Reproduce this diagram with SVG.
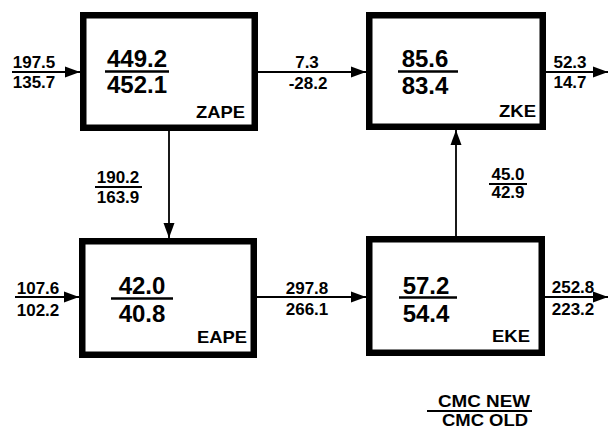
<svg xmlns="http://www.w3.org/2000/svg" width="608" height="431" viewBox="0 0 608 431">
<style>
.box{fill:#fff;stroke:#000;stroke-width:6.5}
.big{font-family:"Liberation Sans",Arial,sans-serif;font-weight:bold;font-size:24px;text-anchor:middle;fill:#000}
.sm{font-family:"Liberation Sans",Arial,sans-serif;font-weight:bold;font-size:17px;text-anchor:middle;fill:#000}
.lg{font-family:"Liberation Sans",Arial,sans-serif;font-weight:bold;font-size:16px;text-anchor:middle;fill:#000}
.lbl{font-family:"Liberation Sans",Arial,sans-serif;font-weight:bold;font-size:17px;text-anchor:end;fill:#000}
.bar{stroke:#000;stroke-width:2.5}
.ul{stroke:#000;stroke-width:2}
.conn{stroke:#000;stroke-width:1.8;fill:none}
</style>
<defs>
<marker id="ah" markerUnits="userSpaceOnUse" markerWidth="16" markerHeight="12" refX="15" refY="6" orient="auto">
<polygon points="0,0.5 15,6 0,11.5" fill="#000"/>
</marker>
</defs>
<rect width="608" height="431" fill="#fff"/>
<g id="connectors">
<path class="conn" d="M12,72 H80" marker-end="url(#ah)"/>
<path class="conn" d="M258,72 H366" marker-end="url(#ah)"/>
<path class="conn" d="M546,72 H608" marker-end="url(#ah)"/>
<path class="conn" d="M169,131 V238" marker-end="url(#ah)"/>
<path class="conn" d="M456,237 V130" marker-end="url(#ah)"/>
<path class="conn" d="M15,297 H79" marker-end="url(#ah)"/>
<path class="conn" d="M257,297 H366" marker-end="url(#ah)"/>
<path class="conn" d="M545,297 H608" marker-end="url(#ah)"/>
<line class="ul" x1="95" y1="187" x2="142" y2="187"/>
<line class="ul" x1="489" y1="184" x2="527" y2="184"/>
<text class="sm" x="34" y="68">197.5</text>
<text class="sm" x="34" y="88">135.7</text>
<text class="sm" x="307" y="68">7.3</text>
<text class="sm" x="308" y="89">-28.2</text>
<text class="sm" x="570" y="68">52.3</text>
<text class="sm" x="570" y="88">14.7</text>
<text class="sm" x="118" y="183">190.2</text>
<text class="sm" x="118" y="203">163.9</text>
<text class="sm" x="508" y="180">45.0</text>
<text class="sm" x="508" y="198">42.9</text>
<text class="sm" x="38" y="294">107.6</text>
<text class="sm" x="38" y="316">102.2</text>
<text class="sm" x="307" y="294">297.8</text>
<text class="sm" x="307" y="315">266.1</text>
<text class="sm" x="573" y="293">252.8</text>
<text class="sm" x="573" y="315">223.2</text>
</g>
<g id="ZAPE">
<rect class="box" x="83.25" y="15.25" width="171.5" height="112.5"/>
<text class="big" x="137" y="67">449.2</text>
<line class="bar" x1="105" y1="71.5" x2="169" y2="71.5"/>
<text class="big" x="137" y="93">452.1</text>
<text class="lbl" x="245" y="118" textLength="49" lengthAdjust="spacingAndGlyphs">ZAPE</text>
</g>
<g id="ZKE">
<rect class="box" x="369.25" y="15.25" width="173.5" height="111.5"/>
<text class="big" x="425" y="67">85.6</text>
<line class="bar" x1="398" y1="71.5" x2="458" y2="71.5"/>
<text class="big" x="425" y="94">83.4</text>
<text class="lbl" x="536" y="117" textLength="37" lengthAdjust="spacingAndGlyphs">ZKE</text>
</g>
<g id="EAPE">
<rect class="box" x="82.25" y="241.25" width="171.5" height="113.5"/>
<text class="big" x="142" y="294">42.0</text>
<line class="bar" x1="111" y1="298.5" x2="173" y2="298.5"/>
<text class="big" x="142" y="322">40.8</text>
<text class="lbl" x="247" y="343" textLength="50" lengthAdjust="spacingAndGlyphs">EAPE</text>
</g>
<g id="EKE">
<rect class="box" x="369.25" y="239.25" width="172.5" height="113.5"/>
<text class="big" x="426" y="294">57.2</text>
<line class="bar" x1="399" y1="297.5" x2="457" y2="297.5"/>
<text class="big" x="426" y="322">54.4</text>
<text class="lbl" x="530" y="342" textLength="38" lengthAdjust="spacingAndGlyphs">EKE</text>
</g>
<g id="legend">
<text class="lg" x="484" y="407" textLength="92" lengthAdjust="spacingAndGlyphs">CMC NEW</text>
<line class="ul" x1="427" y1="411" x2="532" y2="411"/>
<text class="lg" x="485" y="426" textLength="86" lengthAdjust="spacingAndGlyphs">CMC OLD</text>
</g>
</svg>
